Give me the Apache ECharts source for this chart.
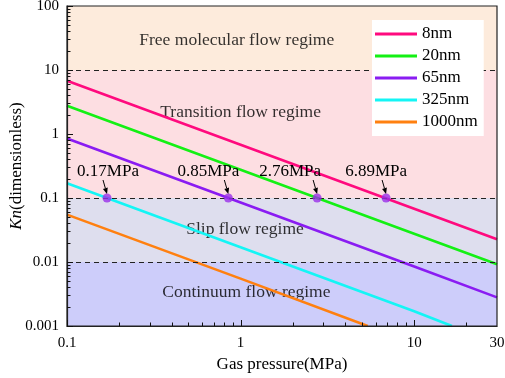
<!DOCTYPE html>
<html>
<head>
<meta charset="utf-8">
<script src="https://cdn.jsdelivr.net/npm/echarts@6/dist/echarts.min.js"></script>
<style>
  html, body { margin: 0; padding: 0; background: #fff; }
  #main { width: 505px; height: 378px; }
</style>
</head>
<body>
<div id="main"></div>
<script>
// 数据：各孔径下 Kn 与气体压力的关系
var seriesNames = ['8nm', '20nm', '65nm', '325nm', '1000nm'];
var seriesColors = ['#FF0A7E', '#14F014', '#8A1CF2', '#14F5F5', '#FF8010'];
var kn8 = [[0.1, 6.8], [1, 0.68], [10, 0.068], [30, 0.0227]];
var kn20 = [[0.1, 2.76], [1, 0.276], [10, 0.0276], [30, 0.0092]];
var kn65 = [[0.1, 0.85], [1, 0.085], [10, 0.0085], [30, 0.0028]];
var kn325 = [[0.1, 0.17], [1, 0.017], [10, 0.0017], [16.5, 0.001]];
var kn1000 = [[0.1, 0.055], [1, 0.0055], [5.4, 0.001]];

// 临界压力点
var criticalPoints = [[0.17, 0.1], [0.85, 0.1], [2.76, 0.1], [6.89, 0.1]];
var criticalLabels = ['0.17MPa', '0.85MPa', '2.76MPa', '6.89MPa'];

// 流态区间
var regimeBounds = [[10, 100], [0.1, 10], [0.01, 0.1], [0.001, 0.01]];
var regimeColors = ['#FDEBDC', '#FDDEE2', '#DEDEEE', '#CDCDFA'];
var regimeNames = ['Free molecular flow regime', 'Transition flow regime', 'Slip flow regime', 'Continuum flow regime'];
var regimeLabelPos = [[0.95, 29], [1.0, 2.2], [1.06, 0.032], [1.08, 0.0034]];
var dashedLevels = [10, 0.1, 0.01];

// 刻度
var xMajorTicks = [0.1, 1, 10];
var xLabelValues = [0.1, 1, 10, 30];
var xMinorTicks = [0.2, 0.3, 0.4, 0.5, 0.6, 0.7, 0.8, 0.9, 2, 3, 4, 5, 6, 7, 8, 9, 20];
var yMajorTicks = [0.001, 0.01, 0.1, 1, 10, 100];
var yMinorTicks = [];
[0.001, 0.01, 0.1, 1, 10].forEach(function (d) {
  for (var k = 2; k <= 9; k++) yMinorTicks.push(+(d * k).toPrecision(3));
});

var FONT = '"Liberation Serif", "Times New Roman", serif';
var chart = echarts.init(document.getElementById('main'));

// 标注偏移（文字中心相对点的位置）
var labelDx = [1, -20, -27, -10];

function renderCallout(params, api) {
  var p = api.coord([api.value(0), api.value(1)]);
  var i = params.dataIndex;
  var x0 = p[0] - 4, y0 = p[1] - 18;
  var x1 = p[0], y1 = p[1] - 4;
  var ang = Math.atan2(y1 - y0, x1 - x0);
  var hl = 6, hw = 2.5;
  var bx = x1 - hl * Math.cos(ang), by = y1 - hl * Math.sin(ang);
  var nx = -Math.sin(ang) * hw, ny = Math.cos(ang) * hw;
  return {
    type: 'group',
    children: [{
      type: 'line',
      shape: { x1: x0, y1: y0, x2: bx, y2: by },
      style: { stroke: '#000', lineWidth: 1 }
    }, {
      type: 'polygon',
      shape: { points: [[x1, y1], [bx + nx, by + ny], [bx - nx, by - ny]] },
      style: { fill: '#000' }
    }, {
      type: 'text',
      style: {
        x: p[0] + labelDx[i], y: p[1] - 26,
        text: criticalLabels[i],
        font: '17px ' + FONT,
        fill: '#000',
        align: 'center', verticalAlign: 'middle'
      }
    }]
  };
}

var lineData = [kn8, kn20, kn65, kn325, kn1000];
var series = [];

// 背景区间 + 虚线
series.push({
  type: 'line',
  name: 'bands',
  data: [],
  silent: true,
  markArea: {
    silent: true,
    data: regimeBounds.map(function (b, i) {
      return [{ yAxis: b[0], itemStyle: { color: regimeColors[i] } }, { yAxis: b[1] }];
    })
  },
  markLine: {
    silent: true,
    symbol: 'none',
    label: { show: false },
    lineStyle: { color: '#222', width: 1, type: [5, 4] },
    data: dashedLevels.map(function (v) { return { yAxis: v }; })
  }
});

// 区域文字
series.push({
  type: 'scatter',
  name: 'regimes',
  symbolSize: 0,
  silent: true,
  data: regimeLabelPos.map(function (p, i) { return { name: regimeNames[i], value: p }; }),
  label: {
    show: true,
    position: 'inside',
    formatter: '{b}',
    fontFamily: FONT,
    fontSize: 17.5,
    color: '#000'
  },
  z: 3
});

lineData.forEach(function (d, i) {
  series.push({
    type: 'line',
    name: seriesNames[i],
    data: d,
    showSymbol: false,
    lineStyle: { color: seriesColors[i], width: 2.6 },
    itemStyle: { color: seriesColors[i] },
    z: 4
  });
});

series.push({
  type: 'scatter',
  name: 'critical',
  data: criticalPoints,
  symbolSize: 9,
  itemStyle: { color: '#9A2EEA' },
  z: 5
});

series.push({
  type: 'custom',
  name: 'callouts',
  data: criticalPoints,
  renderItem: renderCallout,
  z: 6
});

var axisLineStyle = { color: '#222', width: 1.2 };

var option = {
  animation: false,
  backgroundColor: '#fff',
  textStyle: { fontFamily: FONT },
  grid: {
    left: 67, right: 8, top: 6, bottom: 52,
    outerBoundsMode: 'none',
    containLabel: false,
    show: true,
    z: 10,
    borderColor: '#222',
    borderWidth: 1.2,
    backgroundColor: 'transparent'
  },
  legend: {
    data: seriesNames,
    orient: 'vertical',
    left: 372,
    top: 20,
    backgroundColor: '#fff',
    padding: [5, 6, 5, 3],
    itemGap: 4,
    itemWidth: 42,
    itemHeight: 3,
    icon: 'rect',
    textStyle: { fontFamily: FONT, fontSize: 17, color: '#000', lineHeight: 18 },
    z: 8
  },
  xAxis: {
    type: 'log',
    logBase: 10,
    min: 0.1,
    max: 30,
    z: 10,
    name: 'Gas pressure(MPa)',
    nameLocation: 'middle',
    nameGap: 30,
    nameTextStyle: { fontFamily: FONT, fontSize: 17, color: '#000' },
    axisLine: { show: true, onZero: false, lineStyle: axisLineStyle },
    axisTick: { show: false },
    axisLabel: { fontFamily: FONT, fontSize: 15, color: '#000', margin: 10, customValues: xLabelValues,
      formatter: function (v) { return String(+v.toPrecision(3)); } },
    splitLine: { show: false }
  },
  yAxis: {
    type: 'log',
    logBase: 10,
    min: 0.001,
    max: 100,
    z: 10,
    name: '{i|Kn}(dimensionless)',
    nameLocation: 'middle',
    nameGap: 42,
    nameMoveOverlap: false,
    nameTextStyle: {
      fontFamily: FONT, fontSize: 17, color: '#000',
      rich: { i: { fontFamily: FONT, fontSize: 17, fontStyle: 'italic', color: '#000' } }
    },
    axisLine: { show: true, onZero: false, lineStyle: axisLineStyle },
    axisTick: { show: false },
    axisLabel: { fontFamily: FONT, fontSize: 15, color: '#000', margin: 8, customValues: yMajorTicks,
      formatter: function (v) { return String(+v.toPrecision(3)); } },
    splitLine: { show: false }
  },
  series: series
};

chart.setOption(option);

// 刻度线（朝内），位置由坐标轴换算得到
function tickLines() {
  var rect = chart.getModel().getComponent('grid', 0).coordinateSystem.getRect();
  var els = [];
  var bottom = rect.y + rect.height;
  function addX(v, len) {
    var px = Math.round(chart.convertToPixel({ xAxisIndex: 0 }, v)) + 0.5;
    els.push({ type: 'line', silent: true, z: 20,
      shape: { x1: px, y1: bottom, x2: px, y2: bottom - len },
      style: { stroke: '#111', lineWidth: 1 } });
  }
  function addY(v, len) {
    var py = Math.round(chart.convertToPixel({ yAxisIndex: 0 }, v)) + 0.5;
    els.push({ type: 'line', silent: true, z: 20,
      shape: { x1: rect.x, y1: py, x2: rect.x + len, y2: py },
      style: { stroke: '#111', lineWidth: 1 } });
  }
  xMajorTicks.forEach(function (v) { addX(v, 6); });
  xMinorTicks.forEach(function (v) { addX(v, 3.5); });
  yMajorTicks.forEach(function (v) { addY(v, 6); });
  yMinorTicks.forEach(function (v) { addY(v, 3.5); });
  return els;
}

chart.setOption({ graphic: { elements: tickLines() } });
</script>
</body>
</html>
